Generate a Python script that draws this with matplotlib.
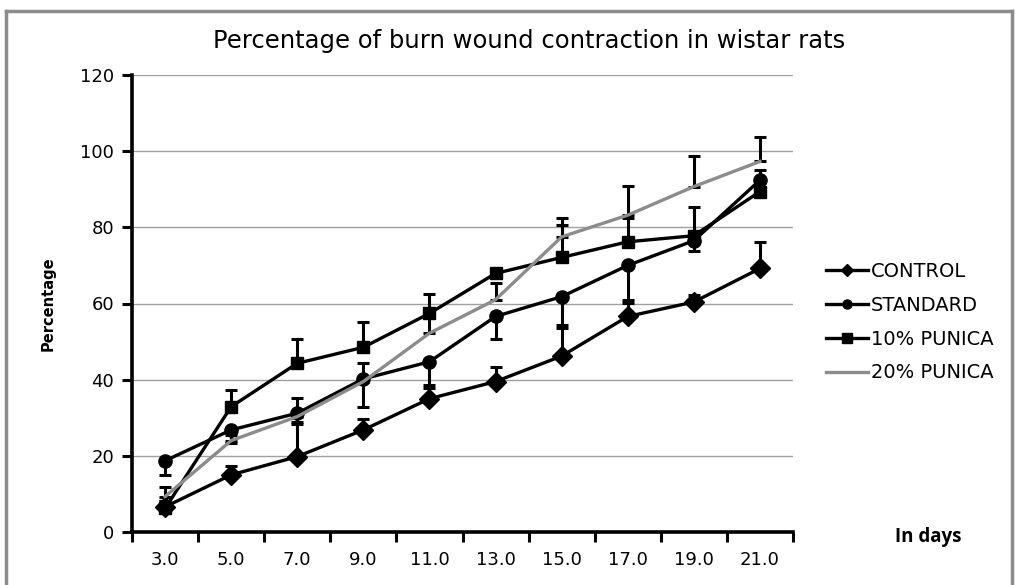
import matplotlib
matplotlib.use("Agg")
import matplotlib.pyplot as plt
import numpy as np
from matplotlib.lines import Line2D

days = ["3.0", "5.0", "7.0", "9.0", "11.0", "13.0", "15.0", "17.0", "19.0", "21.0"]
control = [6.6, 15.0, 19.8, 26.8, 35.0, 39.5, 46.2, 56.6, 60.4, 69.2]
control_plus = [1.5, 2.2, 8.6, 3.0, 2.7, 3.8, 7.3, 3.5, 1.8, 7.0]
standard = [18.7, 26.8, 31.2, 40.2, 44.7, 56.6, 61.8, 70.0, 76.5, 92.4]
standard_minus = [3.8, 3.5, 2.2, 7.3, 6.1, 6.0, 7.4, 9.2, 2.7, 3.0]
punica10 = [6.2, 32.9, 44.3, 48.5, 57.4, 67.9, 72.1, 76.2, 77.8, 89.4]
punica10_plus = [2.0, 4.4, 6.4, 6.7, 5.1, 1.0, 8.5, 6.2, 7.5, 5.7]
punica20 = [9.3, 24.0, 30.3, 39.5, 52.2, 61.0, 77.5, 83.2, 90.7, 97.3]
punica20_plus = [2.6, 1.5, 4.8, 4.8, 5.0, 4.3, 4.9, 7.7, 7.9, 6.3]
labels = ["CONTROL", "STANDARD", "10% PUNICA", "20% PUNICA"]

plt.rcParams['font.family'] = ['DejaVu Sans']

W, H = 1019, 585
fig = plt.figure(figsize=(W / 100, H / 100), dpi=100)
ax = fig.add_axes([132 / W, (H - 532) / H, (793 - 132) / W, (532 - 75) / H])

x = np.arange(len(days))
zero = np.zeros(len(days))
ekw = dict(fmt='none', ecolor='black', elinewidth=2.2, capsize=4.5, capthick=2.2, zorder=4)

ax.errorbar(x, control, yerr=[zero, control_plus], **ekw)
ax.errorbar(x, standard, yerr=[standard_minus, zero], **ekw)
ax.errorbar(x, punica10, yerr=[zero, punica10_plus], **ekw)
ax.errorbar(x, punica20, yerr=[zero, punica20_plus], **ekw)

ax.plot(x, control, color='black', lw=2.4, marker='D', ms=10.5, zorder=5, label=labels[0])
ax.plot(x, standard, color='black', lw=2.4, marker='o', ms=9.5, zorder=5, label=labels[1])
ax.plot(x, punica10, color='black', lw=2.4, marker='s', ms=9, zorder=5, label=labels[2])
ax.plot(x, punica20, color='#8c8c8c', lw=2.4, zorder=6, label=labels[3])

ax.set_ylim(0, 120)
ax.set_yticks(np.arange(0, 121, 20))
ax.set_xlim(-0.5, len(days) - 0.5)
ax.set_xticks(np.arange(-0.5, len(days), 1.0))
ax.set_xticklabels([])
ax.set_xticks(x, minor=True)
ax.set_xticklabels(days, minor=True)
ax.tick_params(axis='x', which='minor', length=0, labelsize=13, pad=14)
ax.tick_params(axis='x', which='major', length=7, width=2.2, direction='out')
ax.tick_params(axis='y', length=7, width=2.2, direction='out', labelsize=13, pad=6)

ax.yaxis.grid(True, color='#a0a0a0', lw=1.0)
ax.set_axisbelow(True)
for s in ['top', 'right']:
    ax.spines[s].set_visible(False)
for s in ['left', 'bottom']:
    ax.spines[s].set_linewidth(2.6)
    ax.spines[s].set_color('black')

fig.text(529 / W, 1 - 41 / H, "Percentage of burn wound contraction in wistar rats",
         ha='center', va='center', fontsize=17.5)
fig.text(48 / W, 1 - 304 / H, "Percentage", rotation=90, ha='center', va='center',
         fontsize=10.5, fontweight='bold')
fig.text(928 / W, 1 - 537 / H, "In days", ha='center', va='center',
         fontsize=13.5, fontweight='bold', family=['Open Sans', 'DejaVu Sans'])

handles = [
    Line2D([], [], color='black', lw=2.4, marker='D', ms=6.5),
    Line2D([], [], color='black', lw=2.4, marker='o', ms=6.5),
    Line2D([], [], color='black', lw=2.4, marker='s', ms=7),
    Line2D([], [], color='#8c8c8c', lw=2.4),
]
fig.legend(handles, labels, loc='upper left', bbox_to_anchor=(826 / W, 1 - 262 / H),
           frameon=False, fontsize=14, handlelength=2.15, handletextpad=0.15,
           labelspacing=0.76, borderaxespad=0, borderpad=0)

# outer frame
fig.add_artist(Line2D([6 / W, 6 / W], [0, 1 - 11 / H], transform=fig.transFigure, color='#8c8c8c', lw=2.5))
fig.add_artist(Line2D([6 / W, 1012 / W], [1 - 11 / H, 1 - 11 / H], transform=fig.transFigure, color='#8c8c8c', lw=2.5))
fig.add_artist(Line2D([1012 / W, 1012 / W], [0, 1 - 11 / H], transform=fig.transFigure, color='#8c8c8c', lw=2.5))

fig.savefig("out.png", dpi=100)
